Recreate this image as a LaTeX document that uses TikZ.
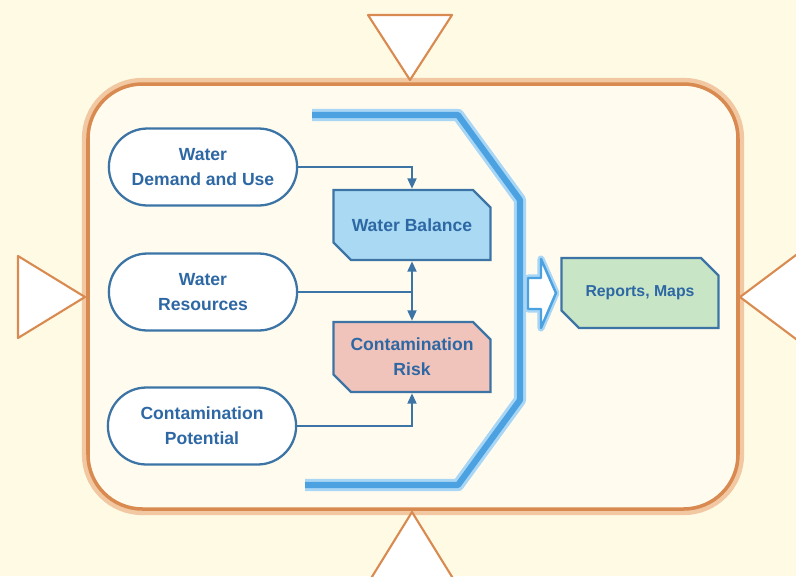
\documentclass[tikz,border=0pt]{standalone}
\usepackage{fontspec}
\setmainfont{Liberation Sans}
\usetikzlibrary{shapes.misc,arrows.meta}

\definecolor{cream}{HTML}{FFFAE4}
\definecolor{frameor}{HTML}{D98A50}
\definecolor{frameglow}{HTML}{F1C8A2}
\definecolor{brblue}{HTML}{4CA2E0}
\definecolor{brglow}{HTML}{A9D6F5}
\definecolor{edgeblue}{HTML}{3D74A6}
\definecolor{txtblue}{HTML}{2E68A4}
\definecolor{balfill}{HTML}{AADAF3}
\definecolor{riskfill}{HTML}{F0C3BB}
\definecolor{repfill}{HTML}{C8E5C6}

\tikzset{
  source/.style={rounded rectangle,draw=edgeblue,fill=white,line width=1.3pt,
    minimum width=4.0cm,minimum height=1.54cm,align=center,text=txtblue,
    font=\fontsize{10}{14}\selectfont\bfseries},
  result/.style={chamfered rectangle,chamfered rectangle corners={north east,south west},
    chamfered rectangle xsep=5pt,chamfered rectangle ysep=5pt,draw=edgeblue,line width=1.3pt,
    minimum width=3.14cm,minimum height=1.4cm,align=center,text=txtblue,
    font=\fontsize{10}{14}\selectfont\bfseries},
  link/.style={draw=edgeblue,line width=1.4pt},
  tip/.style={-{Triangle[length=6pt,width=5pt]}},
  flap/.style={fill=white,draw=frameor,line width=1.2pt,line join=round}
}

\begin{document}
\begin{tikzpicture}[x=0.02cm,y=-0.02cm]
  \fill[cream] (0,0) rectangle (796,576);
  \useasboundingbox (0,0) rectangle (796,576);

  \draw[frameglow,line width=7pt,rounded corners=31pt] (88,84) rectangle (738,509);
  \draw[frameor,line width=2pt,rounded corners=31pt,fill=cream!60!white] (88,84) rectangle (738,509);

  \draw[flap] (368,15) -- (452,15) -- (410,80) -- cycle;
  \draw[flap] (370,580) -- (454,580) -- (412,512) -- cycle;
  \draw[flap] (18,256) -- (18,338) -- (85,297) -- cycle;
  \draw[flap] (800,252) -- (800,342) -- (740,297) -- cycle;

  \draw[brglow,line width=7pt,line join=round] (312,115) -- (458,115) -- (520,200) -- (520,400) -- (458,485) -- (305,485);
  \draw[brblue,line width=3.5pt,line join=round] (312,115) -- (458,115) -- (520,200) -- (520,400) -- (458,485) -- (305,485);

  \node[source] (demand) at (203,167) {Water\\Demand and Use};
  \node[source] (resources) at (203,292) {Water\\Resources};
  \node[source] (potential) at (202,426) {Contamination\\Potential};

  \node[result,fill=balfill] (balance) at (412,225) {Water Balance};
  \node[result,fill=riskfill] (risk) at (412,357) {Contamination\\Risk};
  \node[result,fill=repfill,font=\fontsize{9}{12}\selectfont\bfseries] (reports) at (640,293) {Reports, Maps};

  \coordinate (join) at (balance.south |- resources.east);
  \draw[link,tip] (demand.east) -| (balance.north);
  \draw[link] (resources.east) -- (join);
  \draw[link,tip] (join) -- (balance.south);
  \draw[link,tip] (join) -- (risk.north);
  \draw[link,tip] (potential.east) -| (risk.south);

  \draw[brglow,line width=4pt,line join=round] (528,278) -- (541,278) -- (541,259) -- (556,293) -- (541,328) -- (541,309) -- (528,309) -- cycle;
  \draw[fill=white,draw=brblue,line width=1.4pt,line join=round] (528,278) -- (541,278) -- (541,259) -- (556,293) -- (541,328) -- (541,309) -- (528,309) -- cycle;
\end{tikzpicture}
\end{document}
